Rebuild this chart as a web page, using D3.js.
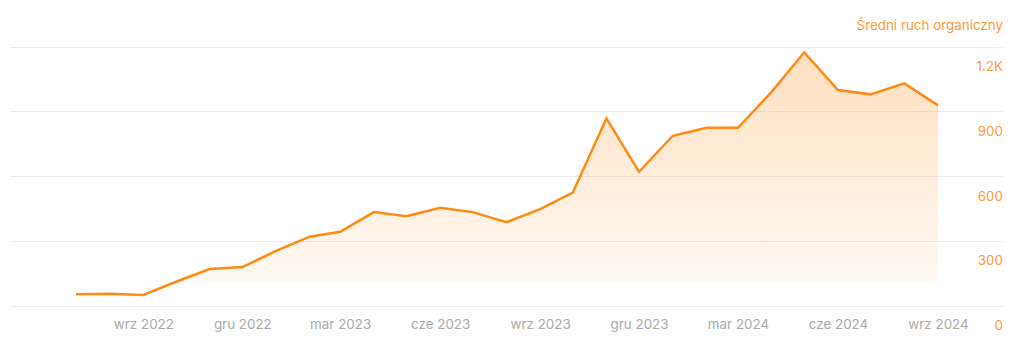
<!DOCTYPE html>
<html>
<head>
<meta charset="utf-8">
<script src="https://cdn.jsdelivr.net/npm/d3@7"></script>
<style>
  html, body { margin: 0; padding: 0; background: #fff; }
  svg { display: block; font-family: Inter, "Noto Sans", sans-serif; }
</style>
</head>
<body>
<svg id="chart" width="1024" height="348"></svg>
<script>
// ---- data ----
const months = [
  "2022-07","2022-08","2022-09","2022-10","2022-11","2022-12",
  "2023-01","2023-02","2023-03","2023-04","2023-05","2023-06",
  "2023-07","2023-08","2023-09","2023-10","2023-11","2023-12",
  "2024-01","2024-02","2024-03","2024-04","2024-05","2024-06",
  "2024-07","2024-08","2024-09"
];
const traffic = [
  52, 54, 49, 110, 169, 178,
  253, 319, 342, 433, 414, 453,
  433, 386, 447, 523, 868, 620,
  787, 824, 824, 991, 1174, 999,
  979, 1030, 928
];
const xTickMonths = ["2022-09","2022-12","2023-03","2023-06","2023-09","2023-12","2024-03","2024-06","2024-09"];
const xTickLabels = ["wrz 2022","gru 2022","mar 2023","cze 2023","wrz 2023","gru 2023","mar 2024","cze 2024","wrz 2024"];
const yTicks = [0, 300, 600, 900, 1200];
const yTickLabels = ["0", "300", "600", "900", "1.2K"];
const areaBase = 108;
const title = "Średni ruch organiczny";

// ---- chart ----
const parse = d3.timeParse("%Y-%m");
const data = months.map((m, i) => ({ date: parse(m), value: traffic[i] }));

const svg = d3.select("#chart");
const x = d3.scaleTime()
  .domain([parse(months[0]), parse(months[months.length - 1])])
  .range([76, 938]);
const y = d3.scaleLinear().domain([0, 1200]).range([305.5, 46.7]);

const gridLeft = 10, gridRight = 1003;
const fontSize = 13.4;

// gradient
const defs = svg.append("defs");
const grad = defs.append("linearGradient")
  .attr("id", "areaGrad")
  .attr("gradientUnits", "userSpaceOnUse")
  .attr("x1", 0).attr("x2", 0)
  .attr("y1", y(d3.max(traffic))).attr("y2", y(areaBase));
grad.append("stop").attr("offset", "0%").attr("stop-color", "#ff8c1a").attr("stop-opacity", 0.28);
grad.append("stop").attr("offset", "100%").attr("stop-color", "#ff8c1a").attr("stop-opacity", 0.05);

// gridlines
svg.append("g").selectAll("line")
  .data(yTicks)
  .join("line")
  .attr("x1", gridLeft).attr("x2", gridRight)
  .attr("y1", d => Math.round(y(d)) + 0.5)
  .attr("y2", d => Math.round(y(d)) + 0.5)
  .attr("stroke", "#ececec")
  .attr("stroke-width", 1);

// clip area above baseline
defs.append("clipPath").attr("id", "clipTop")
  .append("rect")
  .attr("x", 0).attr("y", 0)
  .attr("width", 1024).attr("height", y(areaBase));

const area = d3.area()
  .x(d => x(d.date))
  .y0(y(areaBase))
  .y1(d => y(d.value));

svg.append("path")
  .datum(data)
  .attr("clip-path", "url(#clipTop)")
  .attr("fill", "url(#areaGrad)")
  .attr("d", area);

const line = d3.line()
  .x(d => x(d.date))
  .y(d => y(d.value));

svg.append("path")
  .datum(data)
  .attr("fill", "none")
  .attr("stroke", "#ff8a14")
  .attr("stroke-width", 2.5)
  .attr("stroke-linejoin", "miter")
  .attr("d", line);

// x axis labels
const xAxis = d3.axisBottom(x)
  .tickValues(xTickMonths.map(parse))
  .tickFormat((d, i) => xTickLabels[i])
  .tickSize(0)
  .tickPadding(0);
const gx = svg.append("g").attr("transform", "translate(0,319)").call(xAxis);
gx.select(".domain").remove();
gx.selectAll("text")
  .attr("fill", "#a9a9a9")
  .attr("font-size", fontSize)
  .attr("font-family", "Inter, 'Noto Sans', sans-serif");

// y axis labels (below gridlines, right aligned)
const yAxis = d3.axisRight(y)
  .tickValues(yTicks)
  .tickFormat((d, i) => yTickLabels[i])
  .tickSize(0)
  .tickPadding(0);
const gy = svg.append("g").attr("transform", `translate(${gridRight},0)`).call(yAxis);
gy.select(".domain").remove();
gy.selectAll("text")
  .attr("text-anchor", "end")
  .attr("x", 0)
  .attr("dy", null)
  .attr("y", 24)
  .attr("fill", "#ff9a40")
  .attr("font-size", fontSize)
  .attr("font-family", "Inter, 'Noto Sans', sans-serif");

// title
svg.append("text")
  .attr("x", gridRight)
  .attr("y", 30)
  .attr("text-anchor", "end")
  .attr("fill", "#ff9a40")
  .attr("font-size", fontSize)
  .text(title);
</script>
</body>
</html>
